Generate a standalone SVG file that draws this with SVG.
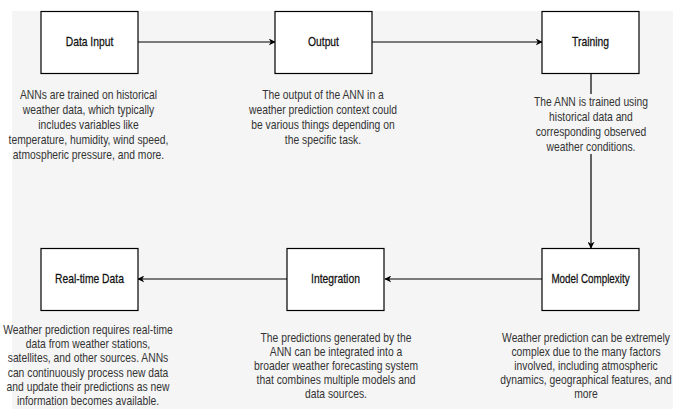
<svg xmlns="http://www.w3.org/2000/svg" width="673" height="409" viewBox="0 0 673 409">
<style>
.box{fill:#ffffff;stroke:#000000;stroke-width:1.2}
.lbl{font-family:"Liberation Sans",Arial,sans-serif;font-size:12px;fill:#111111;stroke:#111111;stroke-width:0.25;text-anchor:middle}
.desc{font-family:"Liberation Sans",Arial,sans-serif;font-size:12px;fill:#333333;text-anchor:middle}
.edge{fill:none;stroke:#000000;stroke-width:1.2}
</style>
<defs>
<marker id="arr" viewBox="0 0 10 10" refX="9" refY="5" markerWidth="7" markerHeight="7" markerUnits="userSpaceOnUse" orient="auto">
<path d="M0,0 L10,5 L0,10 L3,5 Z" fill="#000000"/>
</marker>
</defs>
<rect x="0" y="0" width="673" height="409" fill="#ffffff"/>
<rect x="12" y="11" width="661" height="398" fill="#f5f5f5"/>
<g id="connectors">
<line class="edge" x1="138" y1="42" x2="275" y2="42" marker-end="url(#arr)"/>
<line class="edge" x1="372" y1="42" x2="542" y2="42" marker-end="url(#arr)"/>
<line class="edge" x1="591" y1="73" x2="591" y2="248" marker-end="url(#arr)"/>
<line class="edge" x1="542" y1="279" x2="385" y2="279" marker-end="url(#arr)"/>
<line class="edge" x1="287" y1="279" x2="138" y2="279" marker-end="url(#arr)"/>
</g>
<g id="data-input">
<rect class="box" x="41" y="11.5" width="97" height="62"/>
<text class="lbl" x="89.5" y="46" transform="matrix(0.86 0 0 1 12.53 0)">Data Input</text>
<g class="desc" transform="matrix(0.86 0 0 1 12.4 0)">
<text x="88.5" y="99">ANNs are trained on historical</text>
<text x="88.5" y="114">weather data, which typically</text>
<text x="88.5" y="129">includes variables like</text>
<text x="88.5" y="144">temperature, humidity, wind speed,</text>
<text x="88.5" y="159">atmospheric pressure, and more.</text>
</g>
</g>
<g id="output">
<rect class="box" x="275" y="11.5" width="97" height="62"/>
<text class="lbl" x="323.5" y="46" transform="matrix(0.86 0 0 1 45.29 0)">Output</text>
<g class="desc" transform="matrix(0.86 0 0 1 45.2 0)">
<text x="323" y="99">The output of the ANN in a</text>
<text x="323" y="114">weather prediction context could</text>
<text x="323" y="129">be various things depending on</text>
<text x="323" y="144">the specific task.</text>
</g>
</g>
<g id="training">
<rect class="box" x="542" y="11.5" width="97" height="62"/>
<text class="lbl" x="590.5" y="46" transform="matrix(0.86 0 0 1 82.67 0)">Training</text>
<rect x="536" y="94" width="110" height="60" fill="#f5f5f5"/>
<g class="desc" transform="matrix(0.86 0 0 1 82.74 0)">
<text x="591" y="106">The ANN is trained using</text>
<text x="591" y="121">historical data and</text>
<text x="591" y="136">corresponding observed</text>
<text x="591" y="151">weather conditions.</text>
</g>
</g>
<g id="model-complexity">
<rect class="box" x="542" y="248.5" width="97" height="62"/>
<text class="lbl" x="590.5" y="283" transform="matrix(0.82 0 0 1 106.29 0)">Model Complexity</text>
<g class="desc" transform="matrix(0.86 0 0 1 82.04 0)">
<text x="586" y="342">Weather prediction can be extremely</text>
<text x="586" y="356">complex due to the many factors</text>
<text x="586" y="370">involved, including atmospheric</text>
<text x="586" y="384">dynamics, geographical features, and</text>
<text x="586" y="398">more</text>
</g>
</g>
<g id="integration">
<rect class="box" x="287" y="248.5" width="97" height="62"/>
<text class="lbl" x="335.5" y="283" transform="matrix(0.86 0 0 1 46.97 0)">Integration</text>
<g class="desc" transform="matrix(0.86 0 0 1 47.04 0)">
<text x="336" y="342">The predictions generated by the</text>
<text x="336" y="356">ANN can be integrated into a</text>
<text x="336" y="370">broader weather forecasting system</text>
<text x="336" y="384">that combines multiple models and</text>
<text x="336" y="398">data sources.</text>
</g>
</g>
<g id="real-time-data">
<rect class="box" x="41" y="248.5" width="97" height="62"/>
<text class="lbl" x="89.5" y="283" transform="matrix(0.86 0 0 1 12.53 0)">Real-time Data</text>
<g class="desc" transform="matrix(0.86 0 0 1 12.32 0)">
<text x="88" y="334">Weather prediction requires real-time</text>
<text x="88" y="348.2">data from weather stations,</text>
<text x="88" y="362.4">satellites, and other sources. ANNs</text>
<text x="88" y="376.6">can continuously process new data</text>
<text x="88" y="390.8">and update their predictions as new</text>
<text x="88" y="405">information becomes available.</text>
</g>
</g>
</svg>
